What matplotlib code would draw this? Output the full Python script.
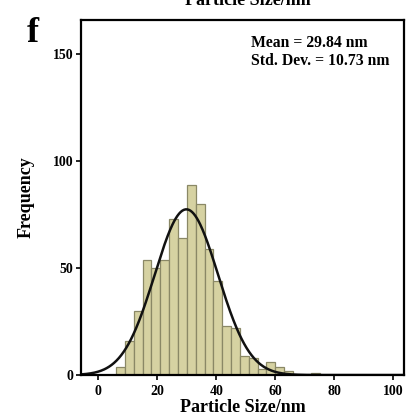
import numpy as np
import matplotlib
matplotlib.use("Agg")
import matplotlib.pyplot as plt

plt.rcParams["font.family"] = ["Liberation Serif", "DejaVu Serif"]
plt.rcParams["font.weight"] = "bold"

# histogram data (bin width 3 nm, first edge at 6 nm)
bin_edges = [6, 9, 12, 15, 18, 21, 24, 27, 30, 33, 36, 39, 42, 45, 48, 51,
             54, 57, 60, 63, 66, 69, 72, 75]
counts = [4, 16, 30, 54, 50, 54, 73, 64, 89, 80, 59, 44, 23, 22, 9, 8,
          3, 6, 4, 2, 0, 0, 1]
mean_nm = 29.84
std_nm = 10.73
x_ticks = [0, 20, 40, 60, 80, 100]
y_ticks = [0, 50, 100, 150]

fig = plt.figure(figsize=(4.07, 4.20), dpi=100)
ax = fig.add_axes([0.199, 0.107, 0.794, 0.845])

# bars
lefts = np.array(bin_edges[:-1])
widths = np.diff(bin_edges)
cnt = np.array(counts)
keep = cnt > 0
ax.bar(lefts[keep], cnt[keep], width=widths[keep], align="edge",
       color="#d6d2a2", edgecolor="#8a8866", linewidth=0.9)

# normal fit scaled to counts
n_total = cnt.sum()
bw = widths[0]
xs = np.linspace(-6, 104, 400)
ys = n_total * bw / (std_nm * np.sqrt(2 * np.pi)) * np.exp(-0.5 * ((xs - mean_nm) / std_nm) ** 2)
ax.plot(xs, ys, color="#111111", linewidth=1.8)

ax.set_xlim(-5.9, 103.7)
ax.set_ylim(0, 166)
ax.set_xticks(x_ticks)
ax.set_yticks(y_ticks)
ax.tick_params(direction="out", length=3.5, width=1.2, labelsize=10)
ax.tick_params(axis="x", pad=3.5)
ax.tick_params(axis="y", pad=2)
for lab in ax.get_xticklabels() + ax.get_yticklabels():
    lab.set_fontweight("bold")
for s in ax.spines.values():
    s.set_linewidth(1.6)

ax.set_xlabel("Particle Size/nm", fontsize=13, fontweight="bold", labelpad=1)
ax.set_ylabel("Frequency", fontsize=13, fontweight="bold", labelpad=13)

ax.text(0.526, 0.957, f"Mean = {mean_nm:.2f} nm\nStd. Dev. = {std_nm:.2f} nm",
        transform=ax.transAxes, ha="left", va="top", fontsize=11.3,
        fontweight="bold", linespacing=1.1)

# panel letter and clipped title of the panel above
fig.text(0.065, 1 - 42 / 420, "f", fontsize=26, fontweight="bold", ha="left", va="baseline")
fig.text(0.61, 1 - 5 / 420, "Particle Size/nm", fontsize=13, fontweight="bold",
         ha="center", va="baseline")

fig.savefig("out.png", dpi=100)
